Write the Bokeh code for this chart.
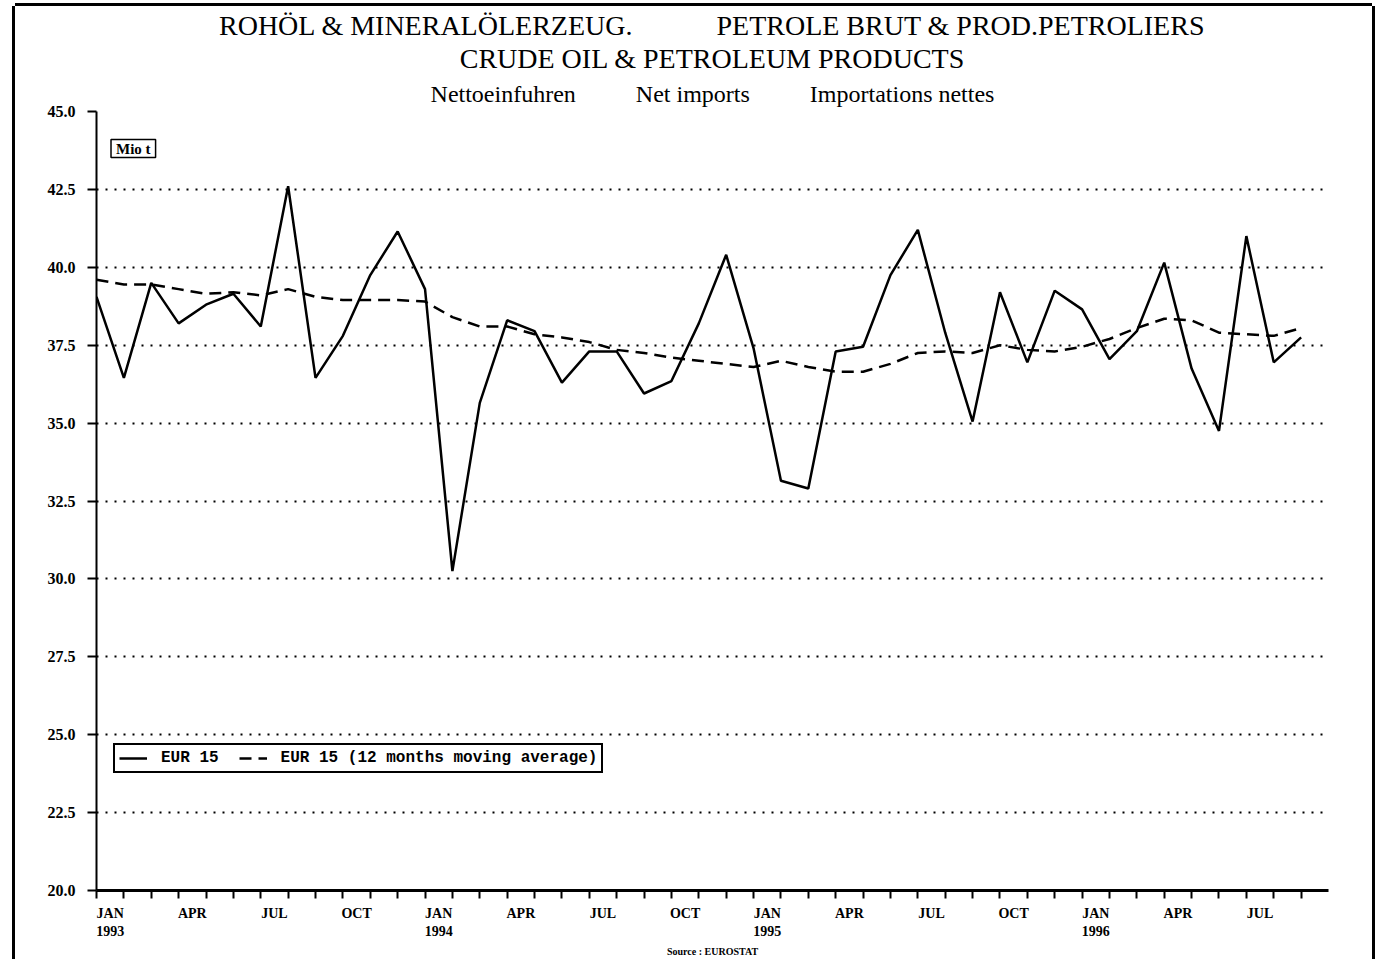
from bokeh.plotting import figure
from bokeh.models import Range1d, FixedTicker, Label, Legend, LegendItem, NumeralTickFormatter, Title
from bokeh.embed import file_html
from bokeh.resources import INLINE

# ---- data (Mio t), monthly Jan 1993 .. Sep 1996 ----
months = ["1993-01", "1993-02", "1993-03", "1993-04", "1993-05", "1993-06", "1993-07", "1993-08", "1993-09",
          "1993-10", "1993-11", "1993-12", "1994-01", "1994-02", "1994-03", "1994-04", "1994-05", "1994-06",
          "1994-07", "1994-08", "1994-09", "1994-10", "1994-11", "1994-12", "1995-01", "1995-02", "1995-03",
          "1995-04", "1995-05", "1995-06", "1995-07", "1995-08", "1995-09", "1995-10", "1995-11", "1995-12",
          "1996-01", "1996-02", "1996-03", "1996-04", "1996-05", "1996-06", "1996-07", "1996-08", "1996-09"]

net_imports = [39.05, 36.45, 39.5, 38.2, 38.8, 39.15, 38.1, 42.6, 36.45, 37.8, 39.75, 41.15,
               39.3, 30.25, 35.65, 38.3, 37.95, 36.3, 37.3, 37.3, 35.95, 36.35, 38.2, 40.4,
               37.4, 33.15, 32.9, 37.3, 37.45, 39.75, 41.2, 37.9, 35.05, 39.2, 36.95, 39.25,
               38.65, 37.05, 37.95, 40.15, 36.75, 34.75, 41.0, 36.95, 37.75]

moving_avg = [39.6, 39.45, 39.45, 39.3, 39.15, 39.2, 39.1, 39.3, 39.05, 38.95, 38.95, 38.95,
              38.9, 38.4, 38.1, 38.1, 37.85, 37.75, 37.6, 37.35, 37.25, 37.1, 37.0, 36.9,
              36.8, 37.0, 36.8, 36.65, 36.65, 36.9, 37.25, 37.3, 37.25, 37.5, 37.35, 37.3,
              37.45, 37.7, 38.05, 38.35, 38.3, 37.9, 37.85, 37.8, 38.05]

y_ticks = [20.0, 22.5, 25.0, 27.5, 30.0, 32.5, 35.0, 37.5, 40.0, 42.5, 45.0]

label_months = [0, 3, 6, 9, 12, 15, 18, 21, 24, 27, 30, 33, 36, 39, 42]
label_texts = ["JAN\n1993", "APR", "JUL", "OCT", "JAN\n1994", "APR", "JUL", "OCT",
               "JAN\n1995", "APR", "JUL", "OCT", "JAN\n1996", "APR", "JUL"]

title_line1 = ["ROHÖL & MINERALÖLERZEUG.", "PETROLE BRUT & PROD.PETROLIERS"]
title_line2 = "CRUDE OIL & PETROLEUM PRODUCTS"
title_line3 = ["Nettoeinfuhren", "Net imports", "Importations nettes"]
source_text = "Source : EUROSTAT"
unit_text = "Mio t"

x = list(range(len(months)))

SERIF = "Liberation Serif"
NB = "\u00a0"

p = figure(width=1357, height=953, output_backend="svg", toolbar_location=None,
           x_range=Range1d(0, 45), y_range=Range1d(20, 45),
           min_border_left=81, min_border_right=44, min_border_top=105, min_border_bottom=68,
           background_fill_color="white", border_fill_color="white")
p.outline_line_color = None
p.title.visible = False
p.styles = {"margin-left": "15px", "margin-top": "6px",
            "box-shadow": "-3px 0 0 0 #000, 3px 0 0 0 #000, 0 -3px 0 0 #000"}

# titles (added nearest-first)
t3 = Title(text=(NB * 10).join(title_line3), align="center", text_font=SERIF,
           text_font_style="normal", text_font_size="24px", standoff=10, text_color="black")
t2 = Title(text=title_line2, align="center", text_font=SERIF,
           text_font_style="normal", text_font_size="28px", standoff=0, text_color="black")
t1 = Title(text=(NB * 12).join(title_line1), align="center", text_font=SERIF,
           text_font_style="normal", text_font_size="28px", standoff=0, text_color="black")
p.add_layout(t3, "above")
p.add_layout(t2, "above")
p.add_layout(t1, "above")

# grid
p.xgrid.visible = False
p.ygrid.ticker = FixedTicker(ticks=y_ticks)
p.ygrid.grid_line_color = "black"
p.ygrid.grid_line_width = 2
p.ygrid.grid_line_dash = "2 7"

# y axis
yax = p.yaxis[0]
yax.ticker = FixedTicker(ticks=y_ticks)
yax.formatter = NumeralTickFormatter(format="0.0")
yax.major_label_text_font = SERIF
yax.major_label_text_font_style = "bold"
yax.major_label_text_font_size = "16px"
yax.major_label_text_color = "black"
yax.major_tick_out = 9
yax.major_tick_in = 0
yax.major_tick_line_width = 2
yax.minor_tick_line_color = None
yax.axis_line_width = 2
yax.major_label_standoff = 12

# x axis
xax = p.xaxis[0]
xax.ticker = FixedTicker(ticks=[m + 0.5 for m in label_months], minor_ticks=x)
xax.major_label_overrides = {m + 0.5: t for m, t in zip(label_months, label_texts)}
xax.major_tick_out = 0
xax.major_tick_in = 0
xax.minor_tick_out = 8
xax.minor_tick_in = 0
xax.minor_tick_line_width = 2
xax.axis_line_width = 3
xax.major_label_text_font = SERIF
xax.major_label_text_font_style = "bold"
xax.major_label_text_font_size = "14px"
xax.major_label_text_color = "black"
xax.major_label_standoff = 7
xax.axis_label = source_text
xax.axis_label_text_font = SERIF
xax.axis_label_text_font_style = "bold"
xax.axis_label_text_font_size = "10px"
xax.axis_label_text_color = "black"
xax.axis_label_standoff = 4

# lines
r1 = p.line(x, net_imports, line_color="black", line_width=2.5)
r2 = p.line(x, moving_avg, line_color="black", line_width=2.5, line_dash="12 7")

legend = Legend(items=[LegendItem(label="EUR 15", renderers=[r1]),
                       LegendItem(label="EUR 15 (12 months moving average)", renderers=[r2])],
                orientation="horizontal", location=(17, 117),
                border_line_color="black", border_line_width=2, border_line_alpha=1,
                background_fill_alpha=1,
                padding=4, spacing=20, margin=0, label_standoff=14,
                glyph_width=28, glyph_height=16, label_height=16,
                label_text_font="Liberation Mono", label_text_font_style="bold",
                label_text_font_size="16px", label_text_color="black")
p.add_layout(legend, "center")

# Mio t box
p.add_layout(Label(x=0.53, y=44.1, text=unit_text, text_align="left", text_baseline="top",
                   text_font=SERIF, text_font_style="bold", text_font_size="15px",
                   text_color="black",
                   border_line_color="black", border_line_width=1.5,
                   background_fill_color="white",
                   padding=dict(left=5, right=5, top=1, bottom=1)))

open("out.html", "w").write(file_html(p, INLINE))
